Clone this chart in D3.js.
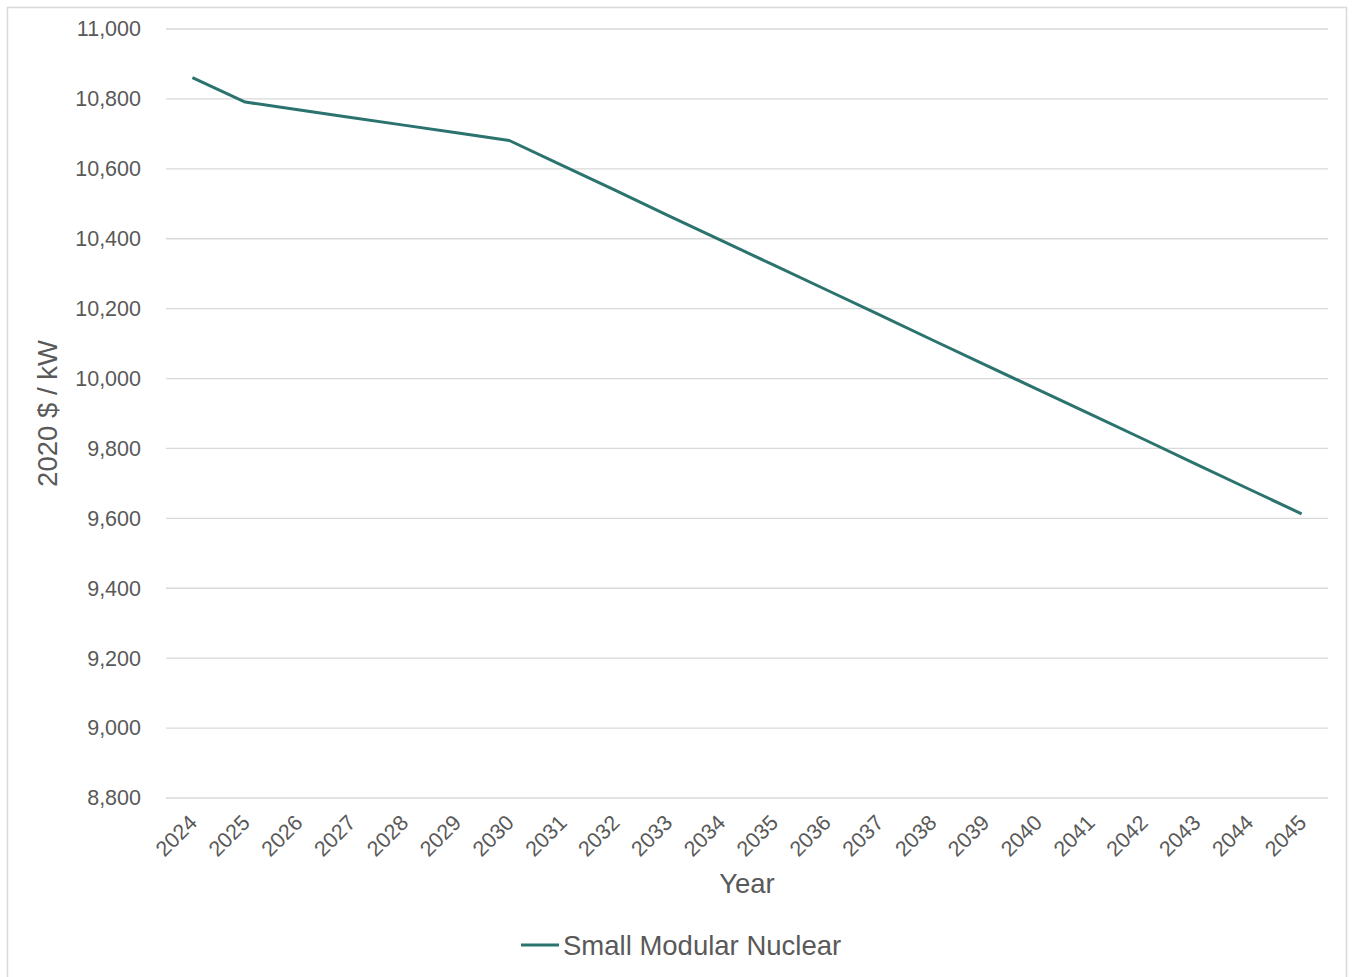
<!DOCTYPE html>
<html><head><meta charset="utf-8">
<script src="https://cdn.jsdelivr.net/npm/d3@7"></script>
<style>body{margin:0;background:#fff;}svg{display:block;font-family:"Liberation Sans",Arial,sans-serif;}</style>
</head><body><svg id="c" width="1352" height="977"></svg>
<script>
const years = ["2024","2025","2026","2027","2028","2029","2030","2031","2032","2033","2034","2035","2036","2037","2038","2039","2040","2041","2042","2043","2044","2045"];
const smrValues = [10861,10791,10769,10747,10725,10703,10681,10610,10539,10467,10396,10325,10254,10183,10111,10040,9969,9898,9827,9755,9684,9613];
const yTicks = [8800,9000,9200,9400,9600,9800,10000,10200,10400,10600,10800,11000];
const seriesName = "Small Modular Nuclear";

const svg = d3.select("#c");
const L = 166, R = 1328, T = 29, B = 798;
const textCol = "#595959", lineCol = "#2b736e";

svg.append("rect").attr("x",7.5).attr("y",7.5).attr("width",1339).attr("height",975)
  .attr("fill","none").attr("stroke","#d9d9d9").attr("stroke-width",1.5);

const x = d3.scaleBand().domain(years).range([L,R]);
const y = d3.scaleLinear().domain([8800,11000]).range([B,T]);

svg.append("g").selectAll("line").data(yTicks).join("line")
  .attr("x1",L).attr("x2",R).attr("y1",d=>y(d)).attr("y2",d=>y(d))
  .attr("stroke","#d9d9d9").attr("stroke-width",1.3);

const yAxis = svg.append("g").attr("transform",`translate(${L},0)`)
  .call(d3.axisLeft(y).tickValues(yTicks).tickFormat(d3.format(",")).tickSize(0).tickPadding(25));
yAxis.select(".domain").remove();
yAxis.selectAll("text").attr("fill",textCol).style("font-size","21.5px").style("font-family","Liberation Sans, Arial, sans-serif");

const xAxis = svg.append("g").attr("transform",`translate(0,${B})`)
  .call(d3.axisBottom(x).tickSize(0));
xAxis.select(".domain").remove();
xAxis.selectAll("text").attr("fill",textCol).style("font-size","21.5px").style("font-family","Liberation Sans, Arial, sans-serif")
  .attr("text-anchor","end").attr("dy",null).attr("y",0)
  .attr("transform","translate(6,26) rotate(-45)");

const line = d3.line().x((d,i)=>x(years[i])+x.bandwidth()/2).y(d=>y(d));
svg.append("path").datum(smrValues).attr("d",line).attr("fill","none")
  .attr("stroke",lineCol).attr("stroke-width",3).attr("stroke-linejoin","round");

svg.append("text").attr("x",(L+R)/2).attr("y",893).attr("text-anchor","middle")
  .attr("fill",textCol).style("font-size","27.5px").text("Year");
svg.append("text").attr("transform",`translate(57,${(T+B)/2}) rotate(-90)`).attr("text-anchor","middle")
  .attr("fill",textCol).style("font-size","27.5px").text("2020 $ / kW");

const lg = svg.append("g");
lg.append("line").attr("x1",521).attr("x2",559).attr("y1",945).attr("y2",945).attr("stroke",lineCol).attr("stroke-width",3);
lg.append("text").attr("x",563).attr("y",955).attr("fill",textCol).style("font-size","27.5px").text(seriesName);
</script></body></html>
